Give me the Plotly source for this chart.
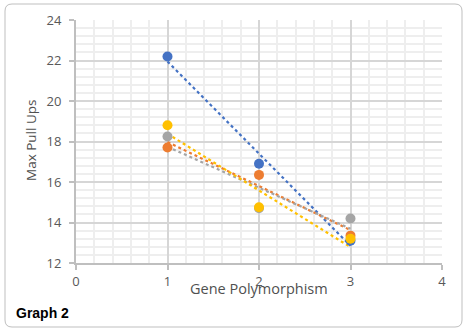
import numpy as np
import plotly.graph_objects as go

x_vals = [1, 2, 3]
series_names = ["Series A", "Series B", "Series C", "Series D"]
blue_vals = [22.2, 16.9, 13.1]
orange_vals = [17.7, 16.35, 13.35]
gray_vals = [18.25, 14.7, 14.2]
yellow_vals = [18.8, 14.75, 13.2]
colors = ["#4472C4", "#ED7D31", "#A5A5A5", "#FFC000"]
x_ticks = [0, 1, 2, 3, 4]
y_ticks = [12, 14, 16, 18, 20, 22, 24]

all_series = [blue_vals, orange_vals, gray_vals, yellow_vals]

fig = go.Figure()
# linear trendlines (least squares) first
for name, vals, c in zip(series_names, all_series, colors):
    m, b = np.polyfit(x_vals, vals, 1)
    tx = [min(x_vals), max(x_vals)]
    ty = [m * t + b for t in tx]
    fig.add_trace(go.Scatter(x=tx, y=ty, mode="lines", line=dict(color=c, width=2.2, dash="dot"),
                             showlegend=False, hoverinfo="skip"))
for name, vals, c in zip(series_names, all_series, colors):
    fig.add_trace(go.Scatter(x=x_vals, y=vals, mode="markers", name=name,
                             marker=dict(color=c, size=10, line=dict(width=0)), showlegend=False))

L, R, T, B = 76, 26, 20, 70
W, H = 468, 333
pw, ph = W - L - R, H - T - B

def px(xp):
    return (xp - L) / pw

def py(yp):
    return (H - B - yp) / ph

# rounded border path in paper coords
x0, x1, y0, y1 = 5, 462, 4, 327
r = 7
rx, ry = r / pw, r / ph
X0, X1, Y0, Y1 = px(x0), px(x1), py(y1), py(y0)
path = (f"M {X0+rx},{Y1} L {X1-rx},{Y1} Q {X1},{Y1} {X1},{Y1-ry} "
        f"L {X1},{Y0+ry} Q {X1},{Y0} {X1-rx},{Y0} L {X0+rx},{Y0} Q {X0},{Y0} {X0},{Y0+ry} "
        f"L {X0},{Y1-ry} Q {X0},{Y1} {X0+rx},{Y1} Z")

font_fam = "Open Sans, Segoe UI, sans-serif"
title_col = "#505050"
fig.update_layout(
    width=W, height=H,
    margin=dict(l=L, r=R, t=T, b=B),
    paper_bgcolor="white", plot_bgcolor="white",
    font=dict(family=font_fam, size=13, color="#595959"),
    shapes=[dict(type="path", xref="paper", yref="paper", path=path,
                 line=dict(color="#BFBFBF", width=1), layer="below")],
    annotations=[
        dict(text="Max Pull Ups", xref="paper", yref="paper", x=px(31), y=py(141), textangle=-90,
             showarrow=False, font=dict(size=13.5, color=title_col, family=font_fam),
             xanchor="center", yanchor="middle"),
        dict(text="Gene Polymorphism", xref="paper", yref="paper", x=px(259), y=py(288), showarrow=False,
             font=dict(size=14.5, color=title_col, family=font_fam), xanchor="center", yanchor="middle"),
        dict(text="<b>Graph 2</b>", xref="paper", yref="paper", x=px(14), y=py(313), showarrow=False,
             font=dict(size=14, color="black", family="Liberation Sans, Arial, sans-serif"),
             xanchor="left", yanchor="middle"),
    ],
)
axis_common = dict(showgrid=True, gridcolor="#D6D6D6", gridwidth=2,
                   showline=True, linecolor="#BFBFBF", linewidth=2,
                   ticks="outside", ticklen=5, tickcolor="#BFBFBF", tickwidth=1.5, zeroline=False,
                   tickfont=dict(size=13, color="#595959", family=font_fam))
fig.update_xaxes(range=[0, 4], tickvals=x_ticks, ticktext=[str(t) for t in x_ticks],
                 minor=dict(dtick=0.2, showgrid=True, gridcolor="#EEEEEE", gridwidth=2),
                 **axis_common)
fig.update_yaxes(range=[12, 24], tickvals=y_ticks, ticktext=[str(t) for t in y_ticks],
                 minor=dict(dtick=0.4, showgrid=True, gridcolor="#EEEEEE", gridwidth=2),
                 ticklabelstandoff=5, **axis_common)

fig.write_html("out.html")
